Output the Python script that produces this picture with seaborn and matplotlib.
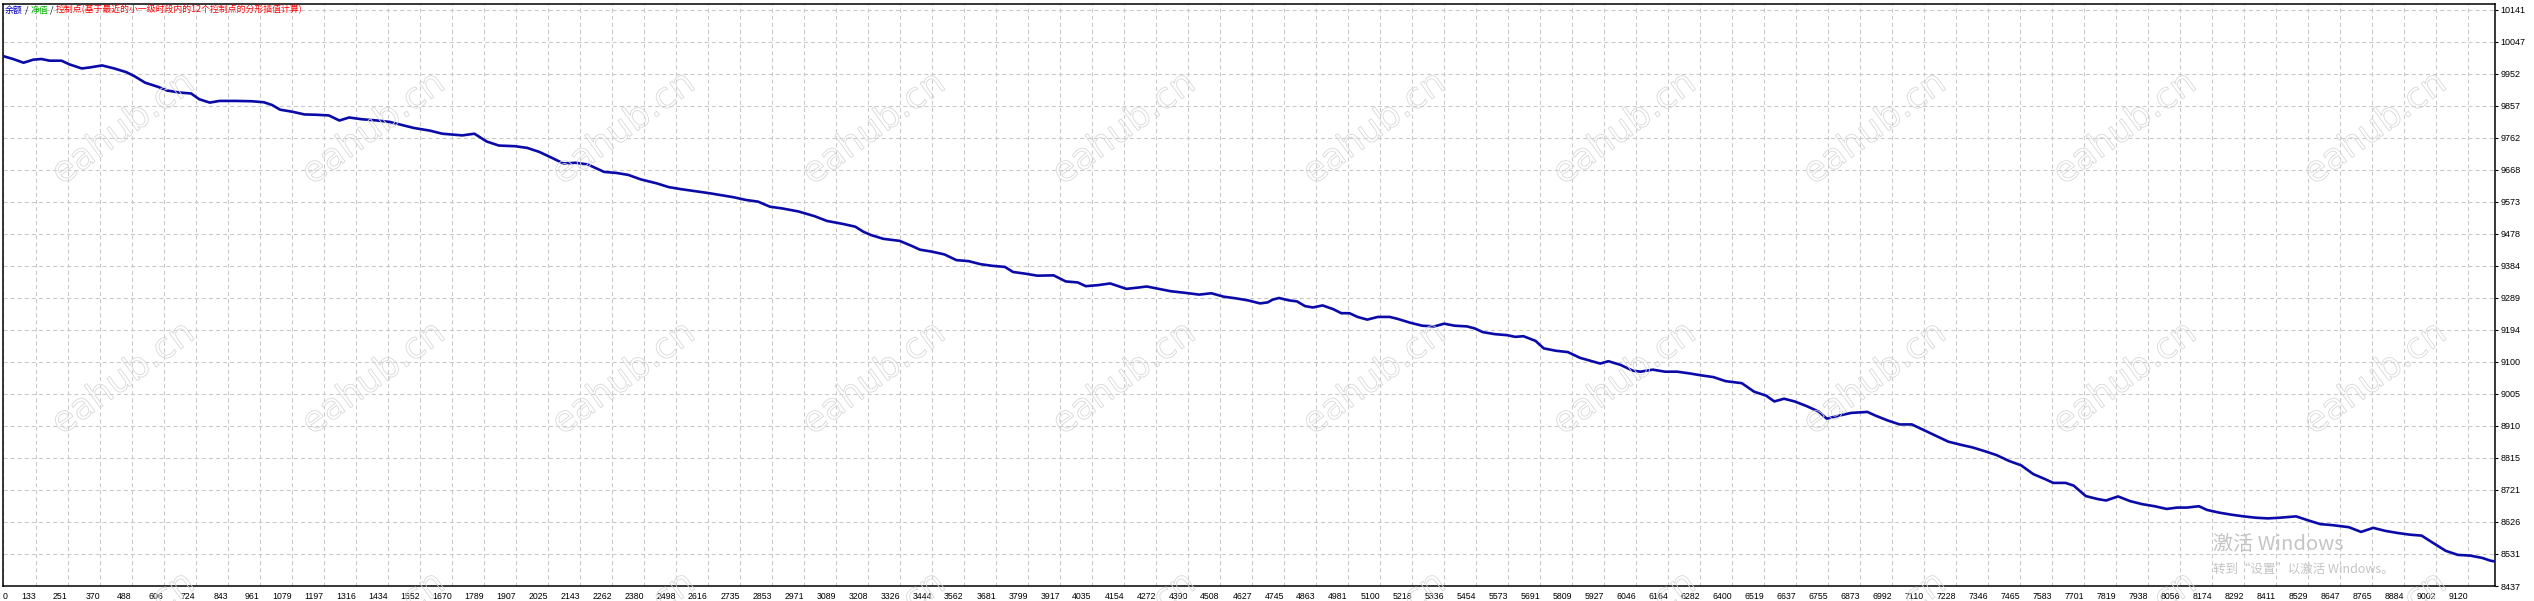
import matplotlib
matplotlib.use("Agg")
import matplotlib.pyplot as plt
import seaborn as sns
import numpy as np
import pandas as pd
from matplotlib.offsetbox import TextArea, HPacker, AnchoredOffsetbox
from matplotlib.textpath import TextPath
from matplotlib.font_manager import FontProperties
from matplotlib.patches import PathPatch
from matplotlib.transforms import Affine2D

# ------------------------------------------------------------
# data (trade number -> balance)
# ------------------------------------------------------------
trade_no = [
    12, 19, 49, 88, 124, 154, 184, 228, 258, 303, 333, 378, 423, 468, 498,
    537, 587, 617, 662, 707, 737, 776, 812, 872, 932, 976, 1006, 1036, 1081,
    1126, 1171, 1216, 1255, 1291, 1335, 1395, 1440, 1485, 1530, 1590, 1635,
    1680, 1709, 1754, 1799, 1844, 1904, 1949, 1994, 2039, 2083, 2128, 2173,
    2233, 2278, 2323, 2368, 2428, 2472, 2517, 2577, 2622, 2667, 2712, 2757,
    2802, 2846, 2891, 2951, 3011, 3056, 3116, 3161, 3191, 3220, 3265, 3325,
    3370, 3400, 3445, 3490, 3535, 3580, 3624, 3669, 3714, 3744, 3789, 3834,
    3894, 3939, 3983, 4013, 4058, 4103, 4163, 4208, 4238, 4283, 4327, 4372,
    4432, 4477, 4522, 4567, 4612, 4657, 4685, 4703, 4727, 4763, 4793, 4823,
    4852, 4888, 4927, 4957, 4987, 5017, 5053, 5092, 5136, 5166, 5211, 5256,
    5301, 5337, 5376, 5421, 5450, 5480, 5525, 5570, 5600, 5630, 5675, 5705,
    5749, 5794, 5839, 5884, 5914, 5944, 5989, 6034, 6063, 6108, 6153, 6198,
    6243, 6288, 6332, 6377, 6437, 6482, 6527, 6557, 6593, 6632, 6677, 6721,
    6751, 6796, 6841, 6901, 6931, 6975, 7020, 7065, 7110, 7155, 7200, 7245,
    7289, 7334, 7379, 7424, 7469, 7514, 7558, 7588, 7633, 7663, 7708, 7753,
    7783, 7827, 7872, 7917, 7962, 8007, 8046, 8082, 8126, 8156, 8201, 8246,
    8291, 8336, 8381, 8425, 8485, 8530, 8575, 8620, 8680, 8725, 8770, 8815,
    8859, 8904, 8949, 8994, 9038, 9083, 9128, 9173, 9203, 9216,
]
balance = [
    10005, 10003, 9996, 9985, 9994, 9996, 9991, 9991, 9980, 9968, 9971, 9977,
    9968, 9957, 9945, 9926, 9913, 9903, 9897, 9894, 9877, 9867, 9872, 9872,
    9871, 9868, 9860, 9846, 9840, 9832, 9831, 9829, 9814, 9823, 9818, 9814,
    9810, 9801, 9792, 9784, 9775, 9772, 9770, 9775, 9752, 9740, 9738, 9733,
    9721, 9704, 9687, 9689, 9684, 9662, 9659, 9653, 9640, 9628, 9617, 9611,
    9604, 9599, 9593, 9587, 9579, 9574, 9559, 9554, 9545, 9531, 9517, 9508,
    9500, 9485, 9475, 9464, 9458, 9443, 9432, 9426, 9418, 9401, 9398, 9389,
    9384, 9381, 9366, 9361, 9355, 9356, 9338, 9335, 9324, 9327, 9332, 9316,
    9320, 9323, 9316, 9309, 9305, 9299, 9303, 9293, 9288, 9282, 9273, 9276,
    9284, 9289, 9282, 9279, 9265, 9261, 9267, 9256, 9244, 9244, 9233, 9225,
    9233, 9233, 9227, 9216, 9207, 9205, 9213, 9207, 9205, 9199, 9188, 9182,
    9179, 9174, 9176, 9162, 9140, 9133, 9129, 9112, 9102, 9095, 9102, 9091,
    9074, 9071, 9077, 9071, 9071, 9066, 9060, 9055, 9043, 9037, 9012, 9000,
    8983, 8991, 8983, 8969, 8953, 8932, 8941, 8949, 8952, 8941, 8927, 8915,
    8915, 8898, 8881, 8864, 8855, 8847, 8836, 8824, 8807, 8794, 8768, 8753,
    8742, 8742, 8734, 8703, 8694, 8690, 8702, 8688, 8679, 8673, 8665, 8669,
    8669, 8673, 8662, 8654, 8648, 8643, 8639, 8637, 8639, 8643, 8631, 8620,
    8617, 8611, 8597, 8609, 8600, 8594, 8589, 8586, 8563, 8541, 8529, 8527,
    8520, 8512, 8510,
]

# x axis labels (first one "0" sits on the left edge)
x_tick_labels = [
    "0", "133", "251", "370", "488", "606", "724", "843", "961", "1079",
    "1197", "1316", "1434", "1552", "1670", "1789", "1907", "2025", "2143",
    "2262", "2380", "2498", "2616", "2735", "2853", "2971", "3089", "3208",
    "3326", "3444", "3562", "3681", "3799", "3917", "4035", "4154", "4272",
    "4390", "4508", "4627", "4745", "4863", "4981", "5100", "5218", "5336",
    "5454", "5573", "5691", "5809", "5927", "6046", "6164", "6282", "6400",
    "6519", "6637", "6755", "6873", "6992", "7110", "7228", "7346", "7465",
    "7583", "7701", "7819", "7938", "8056", "8174", "8292", "8411", "8529",
    "8647", "8765", "8884", "9002", "9120",
]
y_tick_labels = [
    "8437", "8531", "8626", "8721", "8815", "8910", "9005", "9100", "9194",
    "9289", "9384", "9478", "9573", "9668", "9762", "9857", "9952", "10047",
    "10141",
]

legend_parts = [
    ("余额", "#0000c8"),
    (" / ", "#000040"),
    ("净值", "#00b400"),
    (" / ", "#000040"),
    ("控制点(基于最近的小一级时段内的12个控制点的分形插值计算)", "#ff0000"),
]

X_MIN, X_MAX = 12, 9220
Y_MIN, Y_MAX = 8437, 10158.7

W, H = 2534, 601

sns.set_style("white")
plt.rcParams["font.family"] = ["Liberation Sans", "Noto Sans CJK SC", "DejaVu Sans"]
plt.rcParams["lines.scale_dashes"] = False

fig = plt.figure(figsize=(W / 100, H / 100), dpi=100)
fig.patch.set_facecolor("white")
ax = fig.add_axes([3 / W, 15 / H, 2492 / W, 582 / H])

df = pd.DataFrame({"trade": trade_no, "balance": balance})
sns.lineplot(data=df, x="trade", y="balance", ax=ax, color="#0a0aa8",
             linewidth=1.9, sort=False, zorder=3)

ax.set_xlim(X_MIN, X_MAX)
ax.set_ylim(Y_MIN, Y_MAX)
ax.set_xlabel("")
ax.set_ylabel("")

# ticks
x_ticks = [X_MIN] + [int(t) for t in x_tick_labels[1:]]
ax.set_xticks(x_ticks)
ax.set_xticklabels(x_tick_labels, fontsize=6.3)
for lab in ax.get_xticklabels():
    lab.set_horizontalalignment("right")
ax.get_xticklabels()[0].set_horizontalalignment("left")

y_ticks = np.linspace(8437, 10141, len(y_tick_labels))
ax.yaxis.tick_right()
ax.set_yticks(y_ticks)
ax.set_yticklabels(y_tick_labels, fontsize=6.5)

ax.tick_params(axis="x", direction="out", length=2.5, width=0.8, pad=1.5, colors="black")
ax.tick_params(axis="y", direction="out", length=2.5, width=0.8, pad=1.5, colors="black")

ax.grid(True, color="#c8c8c8", linestyle=(0, (2.9, 2.2)), linewidth=0.75, zorder=1)
for s in ax.spines.values():
    s.set_visible(True)
    s.set_color("black")
    s.set_linewidth(1.1)

# coloured legend text at the top left
boxes = [TextArea(t, textprops=dict(color=c, fontsize=6.4,
                                    family=["Noto Sans CJK SC", "DejaVu Sans"]))
         for t, c in legend_parts]
pack = HPacker(children=boxes, align="baseline", pad=0, sep=0)
anch = AnchoredOffsetbox(loc="upper left", child=pack, pad=0, frameon=False,
                         bbox_to_anchor=(5 / W, 1 - 5 / H),
                         bbox_transform=fig.transFigure, borderpad=0)
anch.set_zorder(5)
fig.add_artist(anch)

# outlined "eahub.cn" watermarks
tp = TextPath((0, 0), "eahub.cn", size=36, prop=FontProperties(family="DejaVu Sans"))
ext = tp.get_extents()
cx, cy = (ext.x0 + ext.x1) / 2, (ext.y0 + ext.y1) / 2
for row_y in [126, 376, 626]:
    for k in range(10):
        px = 121 + 250.2 * k
        tr = Affine2D().translate(-cx, -cy).rotate_deg(36).translate(px, H - row_y)
        patch = PathPatch(tp, transform=tr, facecolor="none",
                          edgecolor="#d8d8d8", linewidth=0.6, zorder=6)
        fig.add_artist(patch)

# windows activation overlay
fig.text(2213 / W, 1 - 544 / H, "激活 Windows", fontsize=14.5, color="#c4c4c4",
         va="center", ha="left", family=["Noto Sans CJK SC", "DejaVu Sans"])
fig.text(2213 / W, 1 - 569 / H, "转到“设置”以激活 Windows。", fontsize=9, color="#c4c4c4",
         va="center", ha="left", family=["Noto Sans CJK SC", "DejaVu Sans"])

fig.savefig("out.png", dpi=100, facecolor="white")
